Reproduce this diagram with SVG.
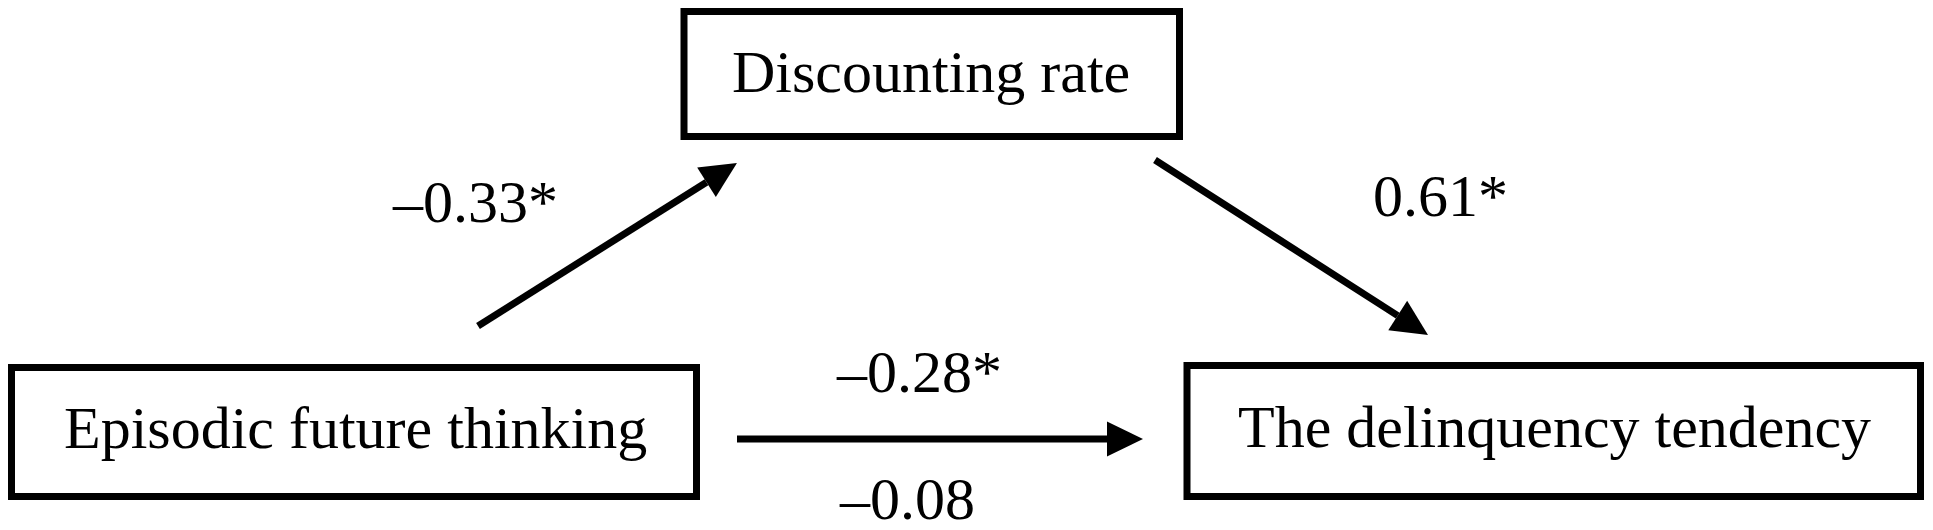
<svg xmlns="http://www.w3.org/2000/svg" width="1933" height="530" viewBox="0 0 1933 530">
  <style>
    .box { fill: #ffffff; stroke: #000000; stroke-width: 7; }
    .lbl { font-family: "Liberation Serif", "Times New Roman", serif; font-size: 60px; fill: #000000; }
    .conn { stroke: #000000; stroke-width: 7; fill: none; marker-end: url(#head); }
  </style>
  <defs>
    <marker id="head" markerUnits="userSpaceOnUse" markerWidth="36" markerHeight="35" refX="0" refY="17.5" orient="auto" overflow="visible">
      <path d="M0,0 L36,17.5 L0,35 z" fill="#000000"/>
    </marker>
  </defs>
  <rect width="1933" height="530" fill="#ffffff"/>
  <g id="node-discounting">
    <rect class="box" x="684" y="11.5" width="495.5" height="125"/>
    <text class="lbl" x="732" y="92">Discounting rate</text>
  </g>
  <g id="node-episodic">
    <rect class="box" x="11.5" y="367.5" width="685" height="129"/>
    <text class="lbl" x="64" y="448">Episodic future thinking</text>
  </g>
  <g id="node-delinquency">
    <rect class="box" x="1187" y="365.5" width="733.5" height="131"/>
    <text class="lbl" x="1238" y="447">The delinquency tendency</text>
  </g>
  <g id="connectors">
    <line class="conn" x1="478" y1="326" x2="706.5" y2="182.2"/>
    <line class="conn" x1="1155" y1="160" x2="1397.7" y2="315.6"/>
    <line class="conn" x1="737" y1="439" x2="1107" y2="439"/>
    <text class="lbl" x="393" y="222">–0.33*</text>
    <text class="lbl" x="1373" y="216">0.61*</text>
    <text class="lbl" x="837" y="392">–0.28*</text>
    <text class="lbl" x="840" y="519">–0.08</text>
  </g>
</svg>
